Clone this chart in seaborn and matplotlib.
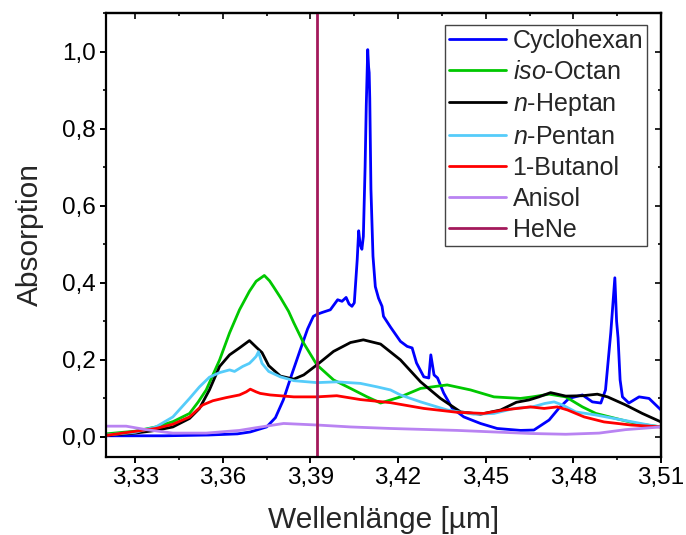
import numpy as np
import pandas as pd
import matplotlib
matplotlib.use('Agg')
import matplotlib.pyplot as plt
import seaborn as sns
from matplotlib.ticker import MultipleLocator, FuncFormatter

sns.set_theme(style='ticks')
plt.rcParams['font.family'] = ['Liberation Sans', 'DejaVu Sans']
plt.rcParams['mathtext.fontset'] = 'custom'
plt.rcParams['mathtext.it'] = 'Liberation Sans:italic'
plt.rcParams['mathtext.rm'] = 'Liberation Sans'

## Daten
cyc_x = [3.320, 3.340, 3.355, 3.365, 3.3694, 3.375, 3.378, 3.3807, 3.3835, 3.3865, 3.389, 3.391,
         3.3922, 3.394, 3.3968, 3.3993, 3.4008, 3.4022, 3.4032, 3.4042, 3.4050, 3.4060, 3.4065,
         3.4070, 3.4076, 3.4081, 3.4087, 3.4091, 3.4096, 3.4099, 3.4101, 3.4103, 3.4107, 3.4114,
         3.4122, 3.4133, 3.4145, 3.4150, 3.4174, 3.4208, 3.4231, 3.4248, 3.4263, 3.4288, 3.4305,
         3.4312, 3.4323, 3.4335, 3.4356, 3.4385, 3.4425, 3.4482, 3.4539, 3.4619, 3.4665, 3.4717,
         3.4751, 3.4785, 3.4831, 3.4865, 3.4894, 3.4910, 3.4928, 3.4942, 3.4948, 3.4953, 3.4960,
         3.4968, 3.4990, 3.5025, 3.5059, 3.5100]
cyc_y = [0.003, 0.003, 0.005, 0.008, 0.013, 0.026, 0.050, 0.096, 0.160, 0.226, 0.280, 0.313,
         0.318, 0.323, 0.330, 0.356, 0.352, 0.362, 0.345, 0.339, 0.348, 0.460, 0.535,
         0.500, 0.487, 0.520, 0.700, 0.860, 1.005, 0.960, 0.945, 0.878, 0.643, 0.469,
         0.390, 0.360, 0.339, 0.313, 0.285, 0.248, 0.235, 0.231, 0.192, 0.156, 0.153,
         0.213, 0.161, 0.153, 0.114, 0.075, 0.052, 0.035, 0.022, 0.017, 0.018, 0.044,
         0.075, 0.100, 0.109, 0.091, 0.088, 0.122, 0.270, 0.413, 0.300, 0.257, 0.148,
         0.104, 0.088, 0.104, 0.100, 0.070]

oct_x = [3.320, 3.330, 3.3371, 3.343, 3.3486, 3.3515, 3.3543, 3.3589, 3.3623, 3.3657, 3.3691,
         3.3714, 3.3742, 3.3760, 3.3774, 3.3797, 3.3825, 3.3843, 3.3877, 3.3922, 3.3979, 3.4037,
         3.4094, 3.4140, 3.4208, 3.4277, 3.4368, 3.4448, 3.4528, 3.4619, 3.4660, 3.4717, 3.4774,
         3.4831, 3.4877, 3.4945, 3.5014, 3.5100]
oct_y = [0.008, 0.015, 0.026, 0.040, 0.061, 0.090, 0.122, 0.200, 0.270, 0.330, 0.378,
         0.404, 0.419, 0.405, 0.389, 0.362, 0.326, 0.296, 0.243, 0.187, 0.148, 0.126,
         0.104, 0.088, 0.104, 0.126, 0.135, 0.122, 0.104, 0.100, 0.104, 0.111, 0.104,
         0.078, 0.061, 0.048, 0.035, 0.026]

hep_x = [3.320, 3.330, 3.3371, 3.3429, 3.3486, 3.3520, 3.3554, 3.3589, 3.3623, 3.3657, 3.3691,
         3.3717, 3.3734, 3.3757, 3.3797, 3.3843, 3.3877, 3.3922, 3.3979, 3.4037, 3.4081, 3.4140,
         3.4208, 3.4277, 3.4345, 3.4414, 3.4482, 3.4551, 3.4605, 3.4648, 3.4682, 3.4722, 3.4774,
         3.4831, 3.4882, 3.4917, 3.4979, 3.5036, 3.5100]
hep_y = [0.004, 0.010, 0.017, 0.026, 0.048, 0.074, 0.122, 0.183, 0.213, 0.231, 0.250,
         0.231, 0.219, 0.185, 0.158, 0.150, 0.161, 0.187, 0.222, 0.245, 0.252, 0.241,
         0.200, 0.143, 0.100, 0.065, 0.059, 0.070, 0.090, 0.096, 0.104, 0.115, 0.106,
         0.107, 0.111, 0.104, 0.083, 0.061, 0.039]

pen_x = [3.320, 3.330, 3.3371, 3.3429, 3.3486, 3.3520, 3.3554, 3.3589, 3.3623, 3.3640, 3.3668,
         3.3691, 3.3703, 3.3714, 3.3722, 3.3734, 3.3757, 3.3797, 3.3843, 3.3922, 3.3990, 3.4071,
         3.4128, 3.4174, 3.4208, 3.4277, 3.4368, 3.4459, 3.4528, 3.4597, 3.4660, 3.4703, 3.4734,
         3.4763, 3.4808, 3.4877, 3.4968, 3.5059, 3.5100]
pen_y = [0.005, 0.012, 0.026, 0.052, 0.100, 0.130, 0.155, 0.167, 0.174, 0.170, 0.183,
         0.191, 0.200, 0.209, 0.221, 0.191, 0.170, 0.156, 0.146, 0.141, 0.143, 0.139,
         0.130, 0.122, 0.109, 0.091, 0.070, 0.059, 0.061, 0.074, 0.078, 0.087, 0.091,
         0.083, 0.065, 0.057, 0.044, 0.031, 0.026]

but_x = [3.320, 3.3371, 3.3429, 3.3486, 3.3531, 3.3566, 3.3611, 3.3657, 3.3680, 3.3694, 3.3714,
         3.3728, 3.3762, 3.3843, 3.3922, 3.3990, 3.4071, 3.4174, 3.4288, 3.4402, 3.4493, 3.4562,
         3.4653, 3.4700, 3.4745, 3.4780, 3.4837, 3.4905, 3.4997, 3.5100]
but_y = [0.004, 0.022, 0.033, 0.052, 0.083, 0.094, 0.102, 0.109, 0.117, 0.124, 0.117,
         0.113, 0.109, 0.104, 0.104, 0.107, 0.097, 0.089, 0.074, 0.064, 0.061, 0.070,
         0.078, 0.074, 0.078, 0.070, 0.052, 0.039, 0.031, 0.026]

ani_x = [3.320, 3.3269, 3.3337, 3.3429, 3.3543, 3.3657, 3.3714, 3.3808, 3.3922, 3.4037, 3.4174,
         3.4402, 3.4653, 3.4774, 3.4888, 3.4979, 3.5100]
ani_y = [0.028, 0.028, 0.019, 0.010, 0.010, 0.017, 0.024, 0.035, 0.031, 0.026, 0.022,
         0.017, 0.009, 0.007, 0.010, 0.019, 0.026]

hene = 3.3922

labels = ['Cyclohexan', r'$\it{iso}$-Octan', r'$\it{n}$-Heptan', r'$\it{n}$-Pentan', '1-Butanol', 'Anisol']
colors = ['#0000FF', '#00C800', '#000000', '#55CCFA', '#FF0000', '#B983F2']
series = [(cyc_x, cyc_y), (oct_x, oct_y), (hep_x, hep_y), (pen_x, pen_y), (but_x, but_y), (ani_x, ani_y)]

fig = plt.figure(figsize=(6.86, 5.35), dpi=100)
ax = fig.add_axes([106/686, 1-457/535, 555/686, 444/535])

for (xs, ys), lab, col in zip(series, labels, colors):
    df = pd.DataFrame({'x': xs, 'y': ys})
    sns.lineplot(data=df, x='x', y='y', ax=ax, color=col, lw=2.0, label=lab,
                 estimator=None, sort=False)
ax.axvline(hene, color='#A3195B', lw=2.0, label='HeNe')

ax.set_xlim(3.32, 3.51)
ax.set_ylim(-0.052, 1.10)
ax.xaxis.set_major_locator(MultipleLocator(0.03))
ax.xaxis.set_minor_locator(MultipleLocator(0.015))
ax.yaxis.set_major_locator(MultipleLocator(0.2))
ax.yaxis.set_minor_locator(MultipleLocator(0.1))
ax.xaxis.set_major_formatter(FuncFormatter(lambda v, p: f'{v:.2f}'.replace('.', ',')))
ax.yaxis.set_major_formatter(FuncFormatter(lambda v, p: f'{v:.1f}'.replace('.', ',')))

for s in ax.spines.values():
    s.set_linewidth(1.6)
    s.set_color('black')
ax.tick_params(which='major', direction='out', length=4.5, width=1.4, labelsize=17.5, pad=3, colors='black')
ax.tick_params(which='minor', direction='out', length=2.5, width=1.4)

# obere und rechte Achse mit Ticks nach innen
top = ax.secondary_xaxis('top')
top.xaxis.set_major_locator(MultipleLocator(0.03))
top.xaxis.set_minor_locator(MultipleLocator(0.015))
top.tick_params(which='major', direction='in', length=4.5, width=1.4, labeltop=False)
top.tick_params(which='minor', direction='in', length=2.5, width=1.4)
top.spines['top'].set_linewidth(1.6)
right = ax.secondary_yaxis('right')
right.yaxis.set_major_locator(MultipleLocator(0.2))
right.yaxis.set_minor_locator(MultipleLocator(0.1))
right.tick_params(which='major', direction='in', length=4.5, width=1.4, labelright=False)
right.tick_params(which='minor', direction='in', length=2.5, width=1.4)
right.spines['right'].set_linewidth(1.6)

ax.set_xlabel('Wellenlänge [µm]', fontsize=21.5, labelpad=12)
ax.set_ylabel('Absorption', fontsize=21.5, labelpad=13)

leg = ax.legend(loc='upper right', bbox_to_anchor=(541/555, 432/444), borderaxespad=0,
                fontsize=18, frameon=True, fancybox=False, framealpha=1,
                edgecolor='#444444', handlelength=2.3, handletextpad=0.25,
                labelspacing=0.28, borderpad=0.15)
leg.get_frame().set_linewidth(1.0)
for h in leg.get_lines():
    h.set_linewidth(2.0)

fig.savefig('out.png', dpi=100)
